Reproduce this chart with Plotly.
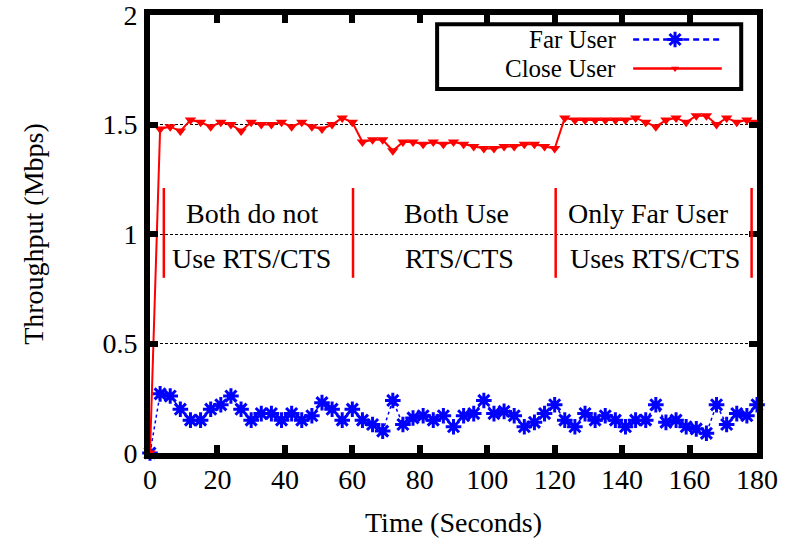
import plotly.graph_objects as go

# Time axis (seconds) and throughput samples (Mbps)
time_s = [0, 3, 6, 9, 12, 15, 18, 21, 24, 27, 30, 33, 36, 39, 42, 45, 48, 51, 54, 57,
          60, 63, 66, 69, 72, 75, 78, 81, 84, 87, 90, 93, 96, 99, 102, 105, 108, 111, 114, 117,
          120, 123, 126, 129, 132, 135, 138, 141, 144, 147, 150, 153, 156, 159, 162, 165, 168, 171, 174, 177,
          180]

far_user = [0.00, 0.27, 0.26, 0.20, 0.15, 0.15, 0.20, 0.22, 0.26, 0.20, 0.15, 0.18, 0.18, 0.15, 0.18, 0.15, 0.17, 0.23, 0.20, 0.15,
            0.20, 0.15, 0.13, 0.10, 0.24, 0.13, 0.16, 0.17, 0.15, 0.17, 0.12, 0.17, 0.18, 0.24, 0.18, 0.19, 0.17, 0.12, 0.14, 0.18,
            0.22, 0.15, 0.12, 0.18, 0.15, 0.17, 0.15, 0.12, 0.15, 0.15, 0.22, 0.14, 0.15, 0.12, 0.11, 0.09, 0.22, 0.13, 0.18, 0.17,
            0.22]

close_user = [0.00, 1.48, 1.49, 1.47, 1.52, 1.51, 1.49, 1.51, 1.50, 1.47, 1.51, 1.50, 1.50, 1.51, 1.49, 1.51, 1.49, 1.48, 1.50, 1.53,
              1.51, 1.42, 1.43, 1.43, 1.38, 1.42, 1.42, 1.41, 1.42, 1.41, 1.42, 1.41, 1.40, 1.39, 1.39, 1.40, 1.40, 1.41, 1.41, 1.40,
              1.39, 1.53, 1.52, 1.52, 1.52, 1.52, 1.52, 1.52, 1.53, 1.51, 1.49, 1.52, 1.53, 1.51, 1.54, 1.54, 1.50, 1.53, 1.51, 1.52,
              1.51]

x_ticks = [0, 20, 40, 60, 80, 100, 120, 140, 160, 180]
y_ticks = [0, 0.5, 1, 1.5, 2]
y_tick_text = ["0", "0.5", "1", "1.5", "2"]

# Phase boundaries and phase labels
phase_marks = [4.1, 60.2, 120.3, 178.4]
phase_span = [0.80, 1.21]
phase_top_x = [30.2, 91.0, 147.7]
phase_bottom_x = [30.1, 91.9, 149.8]
phase_top = ["Both do not", "Both Use", "Only Far User"]
phase_bottom = ["Use RTS/CTS", "RTS/CTS", "Uses RTS/CTS"]

series_names = ["Far User", "Close User"]

FONT = "Liberation Serif"
FS = 28
BLUE = "#0000ff"
RED = "#ff0000"

fig = go.Figure()

fig.add_trace(go.Scatter(
    x=time_s, y=far_user, mode="lines+markers", name=series_names[0],
    line=dict(color=BLUE, width=1.5, dash="3px,3px"),
    marker=dict(symbol="asterisk-open", size=13, color=BLUE, line=dict(color=BLUE, width=3)),
    cliponaxis=False, showlegend=False,
))
fig.add_trace(go.Scatter(
    x=time_s, y=close_user, mode="lines+markers", name=series_names[1],
    line=dict(color=RED, width=2),
    marker=dict(symbol="triangle-down", size=10, color=RED),
    cliponaxis=False, showlegend=False,
))

# Key samples on a hidden overlay axis spanning the plot area
key_x = [0.796, 0.865, 0.942]
key_y = [0.944, 0.878]
fig.add_trace(go.Scatter(
    x=key_x, y=[key_y[0]] * 3, xaxis="x2", yaxis="y2",
    mode="lines", line=dict(color=BLUE, width=2.5, dash="6px,4px"),
    showlegend=False, hoverinfo="skip", cliponaxis=False,
))
fig.add_trace(go.Scatter(
    x=[key_x[1]], y=[key_y[0]], xaxis="x2", yaxis="y2", mode="markers",
    marker=dict(symbol="asterisk-open", size=13, color=BLUE, line=dict(color=BLUE, width=3)),
    showlegend=False, hoverinfo="skip", cliponaxis=False,
))
fig.add_trace(go.Scatter(
    x=key_x, y=[key_y[1]] * 3, xaxis="x2", yaxis="y2",
    mode="lines", line=dict(color=RED, width=2.5),
    showlegend=False, hoverinfo="skip", cliponaxis=False,
))
fig.add_trace(go.Scatter(
    x=[key_x[1]], y=[key_y[1]], xaxis="x2", yaxis="y2", mode="markers",
    marker=dict(symbol="triangle-down", size=7, color=RED),
    showlegend=False, hoverinfo="skip", cliponaxis=False,
))

shapes = []
for xm in phase_marks:
    shapes.append(dict(type="line", xref="x", yref="y", x0=xm, x1=xm,
                       y0=phase_span[0], y1=phase_span[1],
                       line=dict(color=RED, width=2.5)))
# key frame
shapes.append(dict(type="rect", xref="paper", yref="paper", x0=0.473, x1=0.974,
                   y0=0.831, y1=0.979, line=dict(color="black", width=4),
                   fillcolor="white", layer="below"))

text_font = dict(family=FONT, size=FS, color="black")
key_font = dict(family=FONT, size=25, color="black")
annotations = []
for xl, t1 in zip(phase_top_x, phase_top):
    annotations.append(dict(x=xl, y=1.094, xref="x", yref="y", text=t1, showarrow=False,
                            xanchor="center", yanchor="middle", font=text_font))
for xl, t2 in zip(phase_bottom_x, phase_bottom):
    annotations.append(dict(x=xl, y=0.888, xref="x", yref="y", text=t2, showarrow=False,
                            xanchor="center", yanchor="middle", font=text_font))
for name, yy in zip(series_names, key_y):
    annotations.append(dict(x=0.771, y=yy, xref="paper", yref="paper", text=name,
                            showarrow=False, xanchor="right", yanchor="middle",
                            font=key_font))
# axis titles
annotations.append(dict(x=0.5, y=-0.158, xref="paper", yref="paper", text="Time (Seconds)",
                        showarrow=False, xanchor="center", yanchor="middle", font=text_font))
annotations.append(dict(x=-0.193, y=0.5, xref="paper", yref="paper", text="Throughput (Mbps)",
                        textangle=-90, showarrow=False, xanchor="center", yanchor="middle",
                        font=text_font))

fig.update_layout(
    width=793, height=545,
    margin=dict(l=150, r=36, t=15, b=92),
    paper_bgcolor="white", plot_bgcolor="white",
    font=text_font,
    shapes=shapes, annotations=annotations,
    xaxis=dict(
        range=[0, 180], tickvals=x_ticks, ticks="inside", ticklen=8, tickwidth=6,
        tickcolor="black", showline=True, linewidth=6, linecolor="black",
        mirror="ticks", showgrid=False, zeroline=False, automargin=False,
        ticklabelstandoff=-4, ticklabeloverflow="allow",
        tickfont=text_font,
    ),
    yaxis=dict(
        range=[0, 2], tickvals=y_ticks, ticktext=y_tick_text, ticks="inside", ticklen=8,
        tickwidth=6, tickcolor="black", showline=True, linewidth=6, linecolor="black",
        mirror="ticks", showgrid=True, gridcolor="black", gridwidth=1, griddash="3px,2px",
        zeroline=False, automargin=False, ticklabelstandoff=1, ticklabeloverflow="allow",
        tickfont=text_font,
    ),
    xaxis2=dict(overlaying="x", range=[0, 1], visible=False, anchor="y2"),
    yaxis2=dict(overlaying="y", range=[0, 1], visible=False, anchor="x2"),
)

fig.write_html("out.html")
